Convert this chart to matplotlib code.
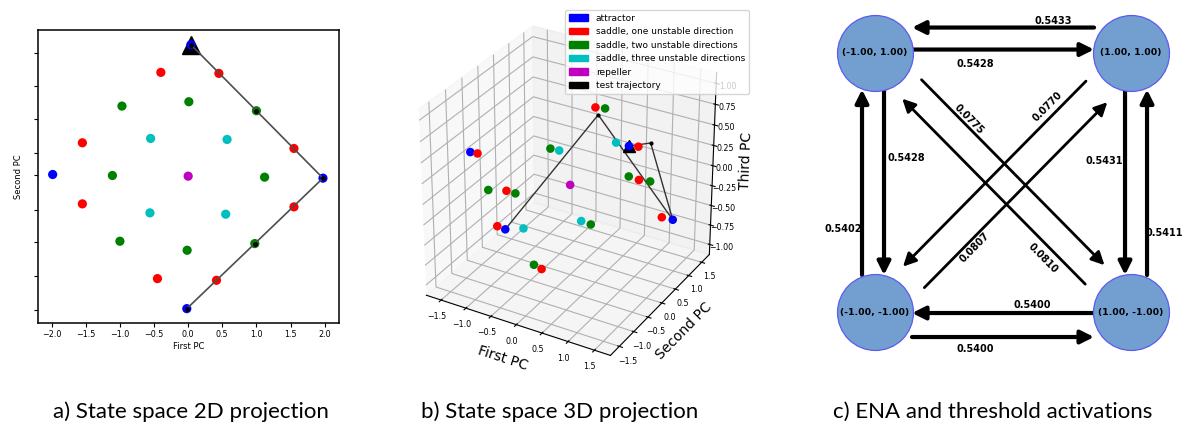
import numpy as np
import matplotlib
matplotlib.use("Agg")
import matplotlib.pyplot as plt
from matplotlib.patches import Patch

# ---------------- data ----------------
group_labels = ["attractor", "saddle, one unstable direction",
                "saddle, two unstable directions", "saddle, three unstable directions",
                "repeller", "test trajectory"]
group_colors = ["b", "r", "g", "c", "m", "k"]

# a) 2D projection (First PC, Second PC)
attr_2d = [(0.04, 1.96), (1.975, -0.04), (-1.985, 0.015), (-0.02, -1.995)]
sad1_2d = [(-0.40, 1.545), (0.45, 1.53), (-1.55, 0.49), (1.55, 0.405),
           (-1.55, -0.425), (1.55, -0.47), (-0.45, -1.545), (0.415, -1.57)]
sad2_2d = [(-0.97, 1.04), (0.01, 1.105), (1.00, 0.97), (-1.11, 0.0),
           (1.12, -0.025), (-1.00, -0.985), (0.976, -1.02), (-0.015, -1.12)]
sad3_2d = [(-0.55, 0.555), (0.57, 0.54), (-0.56, -0.56), (0.55, -0.58)]
rep_2d = [(0.0, -0.01)]
traj_2d = [(0.04, 1.96), (1.0, 0.97), (1.975, -0.04), (0.976, -1.02), (-0.02, -1.995)]
xticks_2d = [-2.0, -1.5, -1.0, -0.5, 0.0, 0.5, 1.0, 1.5, 2.0]
yticks_2d = [1.83, 1.345, 0.845, 0.33, 0.0, -0.51, -0.995, -1.51, -2.01]

# b) 3D projection (First PC, Second PC, Third PC)
attr_3d = [(-1.45, -0.84, 0.4), (1.56, 0.80, -0.4), (0.62, 0.93, 0.3), (-0.61, -1.12, -0.3)]
sad1_3d = [(-0.05, 0.95, 0.65), (0.10, -1.13, -0.65), (-1.32, -0.82, 0.4), (1.36, 0.78, -0.4),
           (-0.83, -0.71, 0.0), (0.93, 0.73, 0.0), (-0.78, -1.10, -0.3), (0.77, 0.99, 0.3)]
sad2_3d = [(0.11, 1.00, 0.65), (-0.08, -1.08, -0.65), (-0.42, 0.06, 0.35), (0.49, -0.15, -0.35),
           (-1.11, -0.84, 0.0), (1.12, 0.78, 0.0), (-0.87, -0.36, -0.15), (0.92, 0.38, 0.15)]
sad3_3d = [(0.44, 0.80, 0.35), (-0.43, -0.83, -0.35), (-0.33, 0.20, 0.3), (0.36, -0.25, -0.3)]
rep_3d = [(0.0, 0.0, 0.0)]
traj_3d = [(0.62, 0.93, 0.3), (0.89, 1.21, 0.3), (1.56, 0.80, -0.4), (0.05, 0.87, 0.6),
           (-0.61, -1.12, -0.3)]
ticks_xy_3d = [-1.5, -1.0, -0.5, 0.0, 0.5, 1.0, 1.5]
ticks_z_3d = [-1.0, -0.75, -0.5, -0.25, 0.0, 0.25, 0.5, 0.75, 1.0]

# c) ENA graph
states = [(-1, 1), (1, 1), (-1, -1), (1, -1)]
edge_src = [1, 0, 0, 2, 1, 3, 3, 2, 0, 3, 1, 2]
edge_dst = [0, 1, 2, 0, 3, 1, 2, 3, 3, 0, 2, 1]
edge_w = [0.5433, 0.5428, 0.5428, 0.5402, 0.5431, 0.5411, 0.5400, 0.5400,
          0.0775, 0.0810, 0.0770, 0.0807]

captions = ["a) State space 2D projection", "b) State space 3D projection",
            "c) ENA and threshold activations"]

# ---------------- figure ----------------
W, H = 1183, 425
fig = plt.figure(figsize=(W / 100, H / 100), dpi=100)


def rect(l, t, r, b):
    return [l / W, 1 - b / H, (r - l) / W, (b - t) / H]


# ---- a) ----
ax1 = fig.add_axes(rect(38, 30, 339, 323))
tx, ty = zip(*traj_2d)
ax1.plot(tx[0], ty[0], "^", color="k", ms=13, zorder=2)
for pts, col in zip([attr_2d, sad1_2d, sad2_2d, sad3_2d, rep_2d], group_colors):
    xs, ys = zip(*pts)
    ax1.scatter(xs, ys, s=44, c=col, edgecolors="none", zorder=3)
ax1.plot(tx, ty, "-", color="0.3", lw=1.2, zorder=4)
ax1.plot(tx, ty, "o", color="k", ms=2.5, zorder=5)
ax1.set_xlim(-2.2, 2.21)
ax1.set_ylim(-2.21, 2.18)
ax1.set_xticks(xticks_2d)
ax1.set_yticks(yticks_2d)
ax1.set_yticklabels([""] * len(yticks_2d))
ax1.tick_params(labelsize=5.8, length=3, width=0.8, pad=2)
ax1.set_xlabel("First PC", fontsize=6, labelpad=2)
ax1.set_ylabel("Second PC", fontsize=6, labelpad=6)
for s in ax1.spines.values():
    s.set_linewidth(1.1)

# ---- b) ----
ax2 = fig.add_axes(rect(375, 0, 755, 380), projection="3d")
ax2.set_box_aspect((1, 1, 1), zoom=0.94)
for pts, col in zip([attr_3d, sad1_3d, sad2_3d, sad3_3d, rep_3d], group_colors):
    xs, ys, zs = zip(*pts)
    ax2.scatter(xs, ys, zs, s=38, c=col, depthshade=False, edgecolors="none")
px, py, pz = zip(*traj_3d)
ax2.plot(px, py, pz, "-", color="0.2", lw=1.0)
ax2.plot(px, py, pz, "o", color="k", ms=2)
ax2.plot([px[0]], [py[0]], [pz[0]], "^", color="k", ms=9)
ax2.set_xlim(-1.8, 1.8)
ax2.set_ylim(-1.8, 1.8)
ax2.set_zlim(-1.13, 1.13)
ax2.set_xticks(ticks_xy_3d)
ax2.set_yticks(ticks_xy_3d)
ax2.set_zticks(ticks_z_3d)
ax2.tick_params(labelsize=5.7, pad=-2)
ax2.set_xlabel("First PC", fontsize=10, labelpad=-4)
ax2.set_ylabel("Second PC", fontsize=10, labelpad=-4)
ax2.set_zlabel("Third PC", fontsize=10, labelpad=-4)

handles = [Patch(facecolor=c, edgecolor=c) for c in group_colors]
fig.legend(handles, group_labels, loc="upper left", bbox_to_anchor=(565 / W, 1 - 10 / H),
           fontsize=6.5, handlelength=2.2, handleheight=0.8, borderaxespad=0)

# ---- c) ----
ax3 = fig.add_axes(rect(800, 0, 1183, 380))
XL, YL = (-1.586, 1.406), (-1.524, 1.405)
ax3.set_xlim(*XL)
ax3.set_ylim(*YL)
ax3.axis("off")
SX = 383 / (XL[1] - XL[0])
SY = 380 / (YL[1] - YL[0])

# per-edge layout (pixels): parallel shift, label distance along edge, label offset
shift_px = [25, -3, -9, -13, 6, 16, -1, 25, -14, -13, 12, 18]
lab_along = [78, 100, 105, 83, 108, 79, 99, 100, 113, 100, 97, 116]
lab_perp = [32, 11, -31, -32, 27, 33, 7, 37, -20, -25, 22, 26]

for i, (a, b, w) in enumerate(zip(edge_src, edge_dst, edge_w)):
    pa = np.array([states[a][0] * SX, -states[a][1] * SY])
    pb = np.array([states[b][0] * SX, -states[b][1] * SY])
    d = (pb - pa) / np.linalg.norm(pb - pa)
    n = np.array([-d[1], d[0]])
    diag = states[a][0] != states[b][0] and states[a][1] != states[b][1]
    gap = 52 if diag else 37
    p0 = pa + d * gap + n * shift_px[i]
    p1 = pb - d * gap + n * shift_px[i]
    ax3.annotate("", xy=(p1[0] / SX, -p1[1] / SY), xytext=(p0[0] / SX, -p0[1] / SY),
                 arrowprops=dict(arrowstyle="-|>,head_length=0.6,head_width=0.3",
                                 lw=2.0 if diag else 3.0, color="k",
                                 shrinkA=0, shrinkB=0, mutation_scale=13))
    pl = pa + d * lab_along[i] + n * lab_perp[i]
    rot = 0
    if diag:
        rot = np.degrees(np.arctan2(-d[1], d[0]))
        if rot > 90:
            rot -= 180
        if rot < -90:
            rot += 180
    ax3.text(pl[0] / SX, -pl[1] / SY, "%.4f" % w, fontsize=7, fontweight="bold",
             ha="center", va="center", rotation=rot, rotation_mode="anchor")

sx, sy = zip(*states)
ax3.scatter(sx, sy, s=2990, c="#729fcf", edgecolors="#5b5bf0", linewidths=0.9, zorder=3)
for s in states:
    ax3.text(s[0], s[1], "(%.2f, %.2f)" % s, fontsize=6.7, fontweight="bold",
             ha="center", va="center", zorder=4)

# captions
for x, t in zip([191, 560, 993], captions):
    fig.text(x / W, 1 - 412 / H, t, ha="center", va="center", fontsize=16, family="Lato")

fig.savefig("out.png", dpi=100)
